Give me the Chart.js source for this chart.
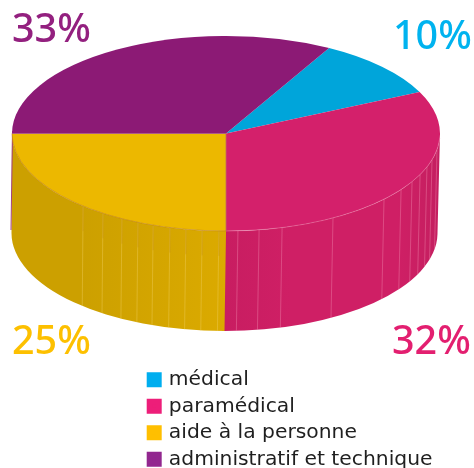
<!DOCTYPE html>
<html><head><meta charset="utf-8">
<style>html,body{margin:0;padding:0;background:#fff}#w{width:474px;height:468px;position:relative}</style>
<script src="https://cdn.jsdelivr.net/npm/chart.js@4"></script></head>
<body><div id="w"><canvas id="c"></canvas></div>
<script>
const categories = ['médical','paramédical','aide à la personne','administratif et technique'];
const values = [10,32,25,33];
const percentLabels = ['10%','32%','25%','33%'];
const topColors = ['#00a5da','#d4206b','#ecb800','#8c1a75'];
const legendColors = ['#00aeef','#ed1e79','#ffbf00','#92278f'];
const labelColors = ['#00b3ef','#e31f70','#fdc000','#93207f'];
const seamAnglesPink = [99.6,105.7,110.1,114.9,119.6,125.1,132.4,150,164.8,171.1,176.8];
const seamAnglesYellow = [181.9,186.4,190.8,195.2,199.9,204.3,209.1,215.1,221.9];

const G = {cx:226, cy:133.5, rx:214, ry:97.5, bx:224.5, by:233, brx:213, bry:98};
const labelPos = [[393,49],[392,354],[12,354],[12,42]];
const rad = d => d*Math.PI/180;
const topPt = a => [G.cx+G.rx*Math.cos(a), G.cy+G.ry*Math.sin(a)];
const botPt = a => [G.bx+G.brx*Math.cos(a), G.by+G.bry*Math.sin(a)];

function wall(ctx,a1,a2,fill){
  ctx.beginPath();
  ctx.ellipse(G.cx,G.cy,G.rx,G.ry,0,a1,a2,false);
  ctx.ellipse(G.bx,G.by,G.brx,G.bry,0,a2,a1,true);
  ctx.closePath();
  ctx.fillStyle=fill; ctx.fill();
}
function seg(ctx,p,q,color,w){
  ctx.beginPath();ctx.moveTo(p[0],p[1]);ctx.lineTo(q[0],q[1]);
  ctx.strokeStyle=color;ctx.lineWidth=w;ctx.stroke();
}
const pie3d = {
  id:'pie3d',
  afterLayout(chart){
    const l=chart.legend;
    l.left=143.5; l.right=474; l.top=363.5; l.bottom=560;
  },
  beforeDatasetsDraw(chart){
    const ctx=chart.ctx, arcs=chart.getDatasetMeta(0).data;
    const pink=arcs[1], yellow=arcs[2];
    const gy=ctx.createLinearGradient(80,0,226,0);
    gy.addColorStop(0,'#cca000');gy.addColorStop(1,'#dbaa00');
    const gp=ctx.createLinearGradient(226,0,440,0);
    gp.addColorStop(0,'#c81d61');gp.addColorStop(.3,'#cf1f65');gp.addColorStop(.8,'#cf1f65');gp.addColorStop(1,'#c41f60');
    const norm=a=>{const t=2*Math.PI;return ((a%t)+t)%t;};
    wall(ctx,0,norm(pink.endAngle)+0.01,gp);
    wall(ctx,norm(yellow.startAngle),Math.PI,gy);
    seg(ctx,[12.5,131],[11,230],'#a0407f',1);
    ctx.save();
    const r=arcs[0].outerRadius;
    ctx.translate(G.cx,G.cy);
    ctx.scale(G.rx/r,G.ry/r);
    ctx.translate(-arcs[0].x,-arcs[0].y);
  },
  afterDatasetsDraw(chart){
    const ctx=chart.ctx, arcs=chart.getDatasetMeta(0).data;
    ctx.restore();
    const off=-Math.PI/2;
    seamAnglesYellow.forEach(d=>{
      const a=rad(d)+off;
      seg(ctx,topPt(a),botPt(a),'rgba(240,205,90,0.55)',0.8);
      const t=topPt(a);
      seg(ctx,t,[t[0],t[1]+25],'rgba(190,135,20,0.5)',0.8);
    });
    seamAnglesPink.forEach(d=>{
      const a=rad(d)+off;
      seg(ctx,topPt(a),botPt(a),'rgba(240,130,170,0.55)',0.8);
    });
    ctx.beginPath();ctx.ellipse(G.cx,G.cy,G.rx,G.ry,0,arcs[2].startAngle,Math.PI);
    ctx.strokeStyle='rgba(190,125,25,0.75)';ctx.lineWidth=0.8;ctx.stroke();
    ctx.beginPath();ctx.ellipse(G.cx,G.cy,G.rx,G.ry,0,0.05,arcs[1].endAngle);
    ctx.strokeStyle='rgba(235,130,170,0.7)';ctx.lineWidth=0.7;ctx.stroke();
    const c=[G.cx,G.cy];
    seg(ctx,c,topPt(arcs[3].startAngle),'rgba(170,85,140,0.8)',1);
    seg(ctx,c,topPt(arcs[2].startAngle),'rgba(190,110,90,0.8)',1);
    ctx.font='500 39.5px "Noto Sans"';
    ctx.textAlign='left';ctx.textBaseline='alphabetic';
    percentLabels.forEach((t,i)=>{ctx.fillStyle=labelColors[i];ctx.fillText(t,labelPos[i][0],labelPos[i][1]);});
  }
};
new Chart(document.getElementById('c'),{
  type:'pie',
  data:{labels:categories,datasets:[{data:values,backgroundColor:topColors,borderWidth:0,clip:false}]},
  options:{
    responsive:true,maintainAspectRatio:false,animation:false,
    rotation:28.8,radius:214,
    layout:{padding:0},
    plugins:{
      tooltip:{enabled:false},
      legend:{
        position:'left',align:'start',
        labels:{
          boxWidth:9,boxHeight:9,padding:6.2,color:'#1f1f1f',
          font:{family:'"DejaVu Sans"',size:20.3},
          generateLabels:ch=>categories.map((t,i)=>({text:t,fillStyle:legendColors[i],strokeStyle:legendColors[i],lineWidth:6,lineJoin:'miter',index:i,fontColor:'#1f1f1f'}))
        }
      }
    }
  },
  plugins:[pie3d]
});
</script></body></html>
